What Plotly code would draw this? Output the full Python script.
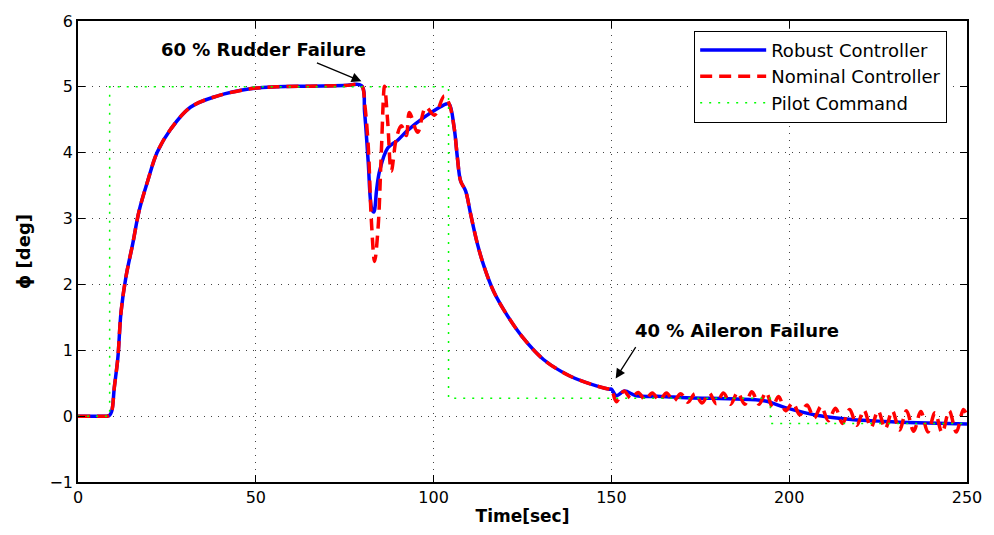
import plotly.graph_objects as go

# ---------------- data ----------------
t_rise = [0, 5, 8.8, 9.5, 10.2, 11.2, 12.1, 13.5, 15.4, 17.2, 19.6, 22.3, 26.1,
          31.6, 39.1, 48.4, 55.9, 65, 75, 79.7]
phi_rise = [0, 0, 0.01, 0.08, 0.43, 0.88, 1.58, 2.12, 2.62, 3.12, 3.57, 4.01, 4.36,
            4.69, 4.86, 4.97, 5.0, 5.01, 5.02, 5.02]

t_rudder_robust = [80.6, 81.6, 82.6, 83.2, 84.0, 84.8, 87.1, 89.9, 92.7, 97.4,
                   101.1, 103.5, 104.4]
phi_rudder_robust = [4.61, 3.87, 3.15, 3.1, 3.45, 3.72, 4.07, 4.19, 4.34, 4.54,
                     4.67, 4.74, 4.74]

t_rudder_nominal = [80.6, 81.6, 82.5, 83.4, 84.4, 85.3, 86.2, 87.1, 88.1, 89.5,
                    90.9, 92.3, 93.2, 95.5, 97.8, 100.2, 103, 104.4]
phi_rudder_nominal = [4.75, 4.12, 2.97, 2.35, 2.87, 4.01, 5.01, 4.46, 3.72, 4.21,
                      4.41, 4.26, 4.61, 4.31, 4.69, 4.57, 4.86, 4.74]

t_decay = [105.8, 106.7, 107.6, 109, 110.4, 112.3, 114.2, 117, 120.7, 125.3,
           130.9, 138.3, 145.8, 149.5]
phi_decay = [4.37, 3.92, 3.57, 3.42, 3.07, 2.62, 2.27, 1.88, 1.53, 1.18,
             0.86, 0.61, 0.46, 0.41]

t_aileron_robust = [151.4, 153.7, 157, 164, 171, 178, 185, 193.3, 198.9, 208.2,
                    217.5, 226.8, 236.1, 250]
phi_aileron_robust = [0.31, 0.38, 0.31, 0.30, 0.28, 0.27, 0.26, 0.23, 0.13, 0.01,
                      -0.05, -0.08, -0.10, -0.12]

t_aileron_nominal = [151.4, 153.5, 155.5, 157.5, 159.5, 161.5, 163.5, 165.5, 167.5,
                     169.5, 171.5, 173.5, 175.5, 177.5, 179.5, 181.5, 183.5, 185.5,
                     187.5, 189.5, 191.5, 193.5, 195.3, 197, 199, 201, 203, 205,
                     207, 209, 211, 213, 215, 217, 219, 221, 223, 225, 227, 229,
                     231, 233, 235, 237, 239, 241, 243, 245, 247, 249, 250]
phi_aileron_nominal = [0.22, 0.38, 0.27, 0.36, 0.25, 0.35, 0.24, 0.35, 0.23,
                       0.34, 0.21, 0.34, 0.20, 0.35, 0.19, 0.35, 0.18, 0.36,
                       0.18, 0.37, 0.18, 0.36, 0.14, 0.30, 0.08, 0.20, 0.02, 0.17,
                       -0.03, 0.15, -0.07, 0.12, -0.11, 0.10, -0.14, 0.09, -0.17,
                       0.08, -0.19, 0.08, -0.21, 0.08, -0.23, 0.07, -0.24, 0.05,
                       -0.25, 0.08, -0.24, 0.10, 0.0]

t_pilot = [0, 8.9, 8.9, 104.2, 104.2, 194.7, 194.7, 250]
phi_pilot = [0, 0, 5, 5, 0.27, 0.27, -0.11, -0.11]

x_ticks = [0, 50, 100, 150, 200, 250]
y_ticks = [-1, 0, 1, 2, 3, 4, 5, 6]

t_robust = t_rise + t_rudder_robust + t_decay + [150] + t_aileron_robust
phi_robust = phi_rise + phi_rudder_robust + phi_decay + [0.41] + phi_aileron_robust
t_nominal = t_rise + t_rudder_nominal + t_decay + [150] + t_aileron_nominal
phi_nominal = phi_rise + phi_rudder_nominal + phi_decay + [0.41] + phi_aileron_nominal

# ---------------- figure ----------------
fig = go.Figure()
fig.add_trace(go.Scatter(x=t_robust, y=phi_robust, mode="lines", name="Robust Controller",
                         line=dict(color="#0000ff", width=3.5, shape="spline", smoothing=1.0)))
fig.add_trace(go.Scatter(x=t_nominal, y=phi_nominal, mode="lines", name="Nominal Controller",
                         line=dict(color="#ff0000", width=3.5, dash="12px,7px",
                                   shape="spline", smoothing=1.0)))
fig.add_trace(go.Scatter(x=t_pilot, y=phi_pilot, mode="lines", name="Pilot Command",
                         line=dict(color="#00ff00", width=1.5, dash="2px,7px")))

tick_font = dict(family="DejaVu Sans", size=16, color="black")
axis_common = dict(showline=True, linecolor="black", linewidth=1.5, mirror="ticks",
                   ticks="inside", ticklen=7, tickwidth=1, tickcolor="black",
                   showgrid=True, gridcolor="#444", gridwidth=1, griddash="1px,6px",
                   zeroline=False, tickfont=tick_font)

fig.update_xaxes(range=[0, 250], tickvals=x_ticks,
                 title=dict(text="<b>Time[sec]</b>", font=dict(family="DejaVu Sans", size=17,
                                                             color="black"), standoff=4),
                 **axis_common)
fig.update_yaxes(range=[-1, 6], tickvals=y_ticks,
                 ticktext=["\u22121"] + [str(v) for v in y_ticks[1:]],
                 title=dict(text="<b>\u03d5 [deg]</b>", font=dict(family="DejaVu Sans", size=18,
                                                                 color="black"), standoff=14),
                 **axis_common)

ann_font = dict(family="DejaVu Sans", size=18, color="black")
fig.add_annotation(x=52.3, y=5.57, xref="x", yref="y", text="<b>60 % Rudder Failure</b>",
                   showarrow=False, font=ann_font)
fig.add_annotation(x=79.7, y=5.085, xref="x", yref="y", text="", showarrow=True,
                   ax=-46, ay=-19, arrowhead=2, arrowsize=1.5, arrowwidth=1.3,
                   arrowcolor="black")
fig.add_annotation(x=185.2, y=1.30, xref="x", yref="y", text="<b>40 % Aileron Failure</b>",
                   showarrow=False, font=ann_font)
fig.add_annotation(x=151.2, y=0.57, xref="x", yref="y", text="", showarrow=True,
                   ax=21, ay=-33, arrowhead=2, arrowsize=1.5, arrowwidth=1.3,
                   arrowcolor="black")

fig.update_layout(
    width=994, height=535,
    margin=dict(l=78, r=21, t=17, b=49),
    paper_bgcolor="white", plot_bgcolor="white",
    font=dict(family="DejaVu Sans", color="black"),
    legend=dict(x=0.9777, y=0.979, xanchor="right", yanchor="top",
                bgcolor="white", bordercolor="black", borderwidth=1,
                font=dict(family="DejaVu Sans", size=18, color="black"),
                itemwidth=66, tracegroupgap=0),
    showlegend=True,
)

fig.write_html("out.html")
